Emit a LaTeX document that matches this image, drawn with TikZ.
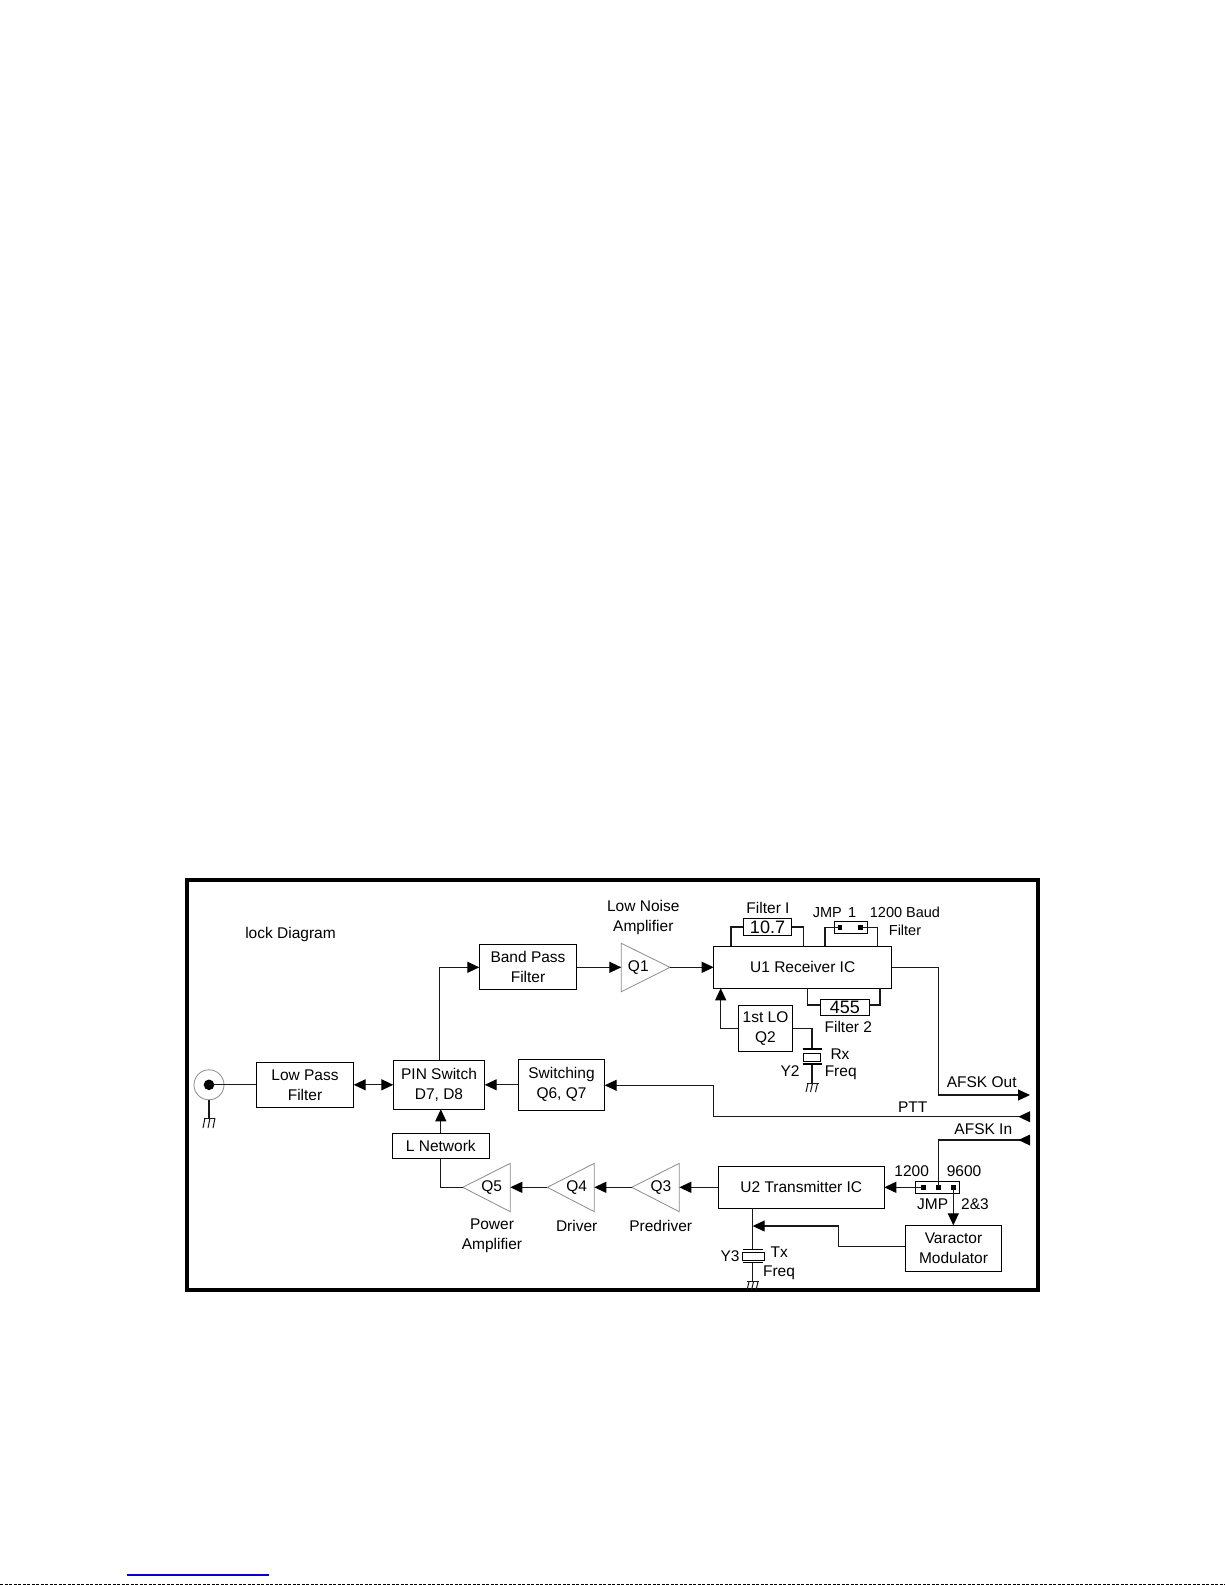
\documentclass[tikz,border=0pt]{standalone}
\usepackage{fontspec}
\setmainfont{Liberation Sans}
\usetikzlibrary{arrows.meta,calc}
\tikzset{
  box/.style={draw=black,line width=1pt,fill=white,inner sep=0pt,outer sep=0pt,align=center,font=\fontsize{15.5}{20}\selectfont},
  lbl/.style={inner sep=0pt,outer sep=0pt,align=center,font=\fontsize{15.5}{20}\selectfont},
  small/.style={inner sep=0pt,outer sep=0pt,align=center,font=\fontsize{14.5}{18}\selectfont},
  wire/.style={line width=1.2pt,black!90},
  head/.style={Triangle[length=12pt,width=11pt,color=black,fill=black]},
  arr/.style={wire,-{Triangle[length=12pt,width=11pt,color=black,fill=black]}},
  dbl/.style={wire,{Triangle[length=12pt,width=11pt,color=black,fill=black]}-{Triangle[length=12pt,width=11pt,color=black,fill=black]}},
  amp/.style={draw=black!45,line width=0.8pt,fill=white},
  pin/.style={fill=black,inner sep=0pt,minimum size=4.5pt,outer sep=0pt},
  gnd/.style={line width=1pt,black!90}
}
\begin{document}
\begin{tikzpicture}[x=1pt,y=-1pt]
\useasboundingbox (0,0) rectangle (1225,1585);
\fill[white] (0,0) rectangle (1225,1585);
% frame
\draw[line width=4pt,black] (186.7,880) rectangle (1037.7,1290.3);
% boxes
\node[box,minimum width=97.4pt,minimum height=45pt] (lpf) at (305,1084.8) {Low Pass\\Filter};
\node[box,minimum width=91.4pt,minimum height=49pt] (pinsw) at (439,1084.8) {PIN Switch\\D7, D8};
\node[box,minimum width=86.4pt,minimum height=51pt] (sw) at (561.5,1084.8) {Switching\\Q6, Q7};
\node[box,minimum width=97.4pt,minimum height=45pt] (bpf) at (528,967.3) {Band Pass\\Filter};
\node[box,minimum width=178pt,minimum height=42pt] (u1) at (802.7,967.3) {U1 Receiver IC};
\node[box,minimum width=48.4pt,minimum height=17.4pt,font=\fontsize{18}{20}\selectfont] (f1) at (767.5,927) {10.7};
\node[box,minimum width=33.4pt,minimum height=11.6pt] (jmpa) at (851,927.5) {};
\node[box,minimum width=49pt,minimum height=16.7pt,font=\fontsize{18}{20}\selectfont] (f2) at (844.8,1007.6) {455};
\node[box,minimum width=54.4pt,minimum height=45.3pt] (lo) at (765.5,1028.6) {1st LO\\Q2};
\node[box,minimum width=97pt,minimum height=25pt] (lnet) at (440.8,1145.8) {L Network};
\node[box,minimum width=166pt,minimum height=42pt] (u2) at (801.3,1187.3) {U2 Transmitter IC};
\node[box,minimum width=43.6pt,minimum height=12.3pt] (jmpb) at (937.5,1187.2) {};
\node[box,minimum width=96.4pt,minimum height=46pt] (var) at (953.5,1248.3) {Varactor\\Modulator};
% pins
\node[pin] (p1) at (840,927.7) {};
\node[pin] (p2) at (860.7,927.7) {};
\node[pin] (p3) at (923.3,1187.3) {};
\node[pin] (p4) at (938.3,1187.3) {};
\node[pin] (p5) at (953.3,1187.3) {};
% amplifiers
\draw[amp] (621.3,943.3) -- (670,967.3) -- (621.3,991.7) -- cycle;
\draw[amp] (510.3,1163.3) -- (462.7,1187.3) -- (510.3,1211.7) -- cycle;
\draw[amp] (594.3,1163.3) -- (547.3,1187.3) -- (594.3,1211.7) -- cycle;
\draw[amp] (679.3,1163.3) -- (631.7,1187.3) -- (679.3,1211.7) -- cycle;
\node[lbl] (q1) at (638.3,967.3) {Q1};
\node[lbl] (q5) at (491.7,1187.3) {Q5};
\node[lbl] (q4) at (576.7,1187.3) {Q4};
\node[lbl] (q3) at (661,1187.3) {Q3};
\coordinate (q1w) at (621.3,967.3);
\coordinate (q1e) at (670,967.3);
\coordinate (q5w) at (462.7,1187.3);
\coordinate (q5e) at (510.3,1187.3);
\coordinate (q4w) at (547.3,1187.3);
\coordinate (q4e) at (594.3,1187.3);
\coordinate (q3w) at (631.7,1187.3);
\coordinate (q3e) at (679.3,1187.3);
% antenna connector
\node[circle,draw=black!45,line width=0.8pt,minimum size=30pt,inner sep=0pt,outer sep=0pt] (ant) at (209,1084.8) {};
\node[circle,fill=black,minimum size=10.6pt,inner sep=0pt] (antc) at (209,1084.8) {};
\draw[wire] (antc.center) -- (lpf.west);
\coordinate (g0) at (209,1118);
\draw[wire] (ant.south) -- (g0);
\draw[gnd] (204,1118) -- (215,1118);
\draw[gnd] (205,1118) -- (203,1128) (210,1118) -- (208,1128) (215,1118) -- (213,1128);
% RF path
\draw[dbl] (lpf.east) -- (pinsw.west);
\draw[arr] (sw.west) -- (pinsw.east);
\coordinate (bend1) at (439.3,967.3);
\draw[arr] (bend1 |- pinsw.north) -- (bend1) -- (bpf.west);
\draw[arr] (bpf.east) -- (q1w);
\draw[arr] (q1e) -- (u1.west);
% filter 1
\coordinate (f1l) at (731,927);
\coordinate (f1r) at (803.3,927);
\draw[wire] (f1l |- u1.north) -- (f1l) -- (f1.west);
\draw[wire] (f1.east) -- (f1r) -- (f1r |- u1.north);
% jumper 1
\coordinate (j1l) at (825,927.7);
\coordinate (j1r) at (877.7,927.7);
\draw[wire] (j1l |- u1.north) -- (j1l) -- (p1.center);
\draw[wire] (p2.center) -- (j1r) -- (j1r |- u1.north);
% filter 2
\coordinate (f2l) at (807.7,1005);
\coordinate (f2r) at (880,1005);
\draw[wire] (f2l |- u1.south) -- (f2l) -- (f2l -| f2.west);
\draw[wire] (f2r -| f2.east) -- (f2r) -- (f2r |- u1.south);
% LO
\coordinate (lo1) at (720.7,1028.6);
\draw[arr] (lo.west) -- (lo1) -- (lo1 |- u1.south);
\coordinate (lo2) at (812,1028.6);
\coordinate (y2t) at (812,1049);
\coordinate (y2b) at (812,1064);
\coordinate (g2) at (812,1083.3);
\draw[wire] (lo.east) -- (lo2) -- (y2t);
\draw[wire] (y2b) -- (g2);
\draw[line width=1.4pt] (802.7,1049) -- (821.7,1049);
\draw[line width=1.4pt] (802.7,1064) -- (821.7,1064);
\node[draw,line width=1pt,fill=white,minimum width=17.7pt,minimum height=7.7pt,inner sep=0pt] (y2) at (812,1057.2) {};
\draw[gnd] (806.5,1083.3) -- (818.5,1083.3);
\draw[gnd] (808,1083.3) -- (806,1092) (812.5,1083.3) -- (810.5,1092) (817.5,1083.3) -- (815.5,1092);
% outputs
\coordinate (aout1) at (938.3,967.3);
\coordinate (aout2) at (1030,1095);
\draw[arr] (u1.east) -- (aout1) -- (aout1 |- aout2) -- (aout2);
\coordinate (ptt0) at (1030,1116.7);
\coordinate (ptt1) at (713.7,1116.7);
\coordinate (ptt2) at (713.7,1085.3);
\draw[wire] (ptt0) -- (ptt1) -- (ptt2);
\draw[arr] (ptt2) -- (sw.east |- ptt2);
\fill[black] (1030,1111.2) -- (1018.3,1116.7) -- (1030,1122.2) -- cycle;
\coordinate (ain0) at (1030,1140);
\coordinate (ain1) at (938.3,1140);
\draw[wire] (ain0) -- (ain1) -- (p4.center);
\fill[black] (1030,1134.5) -- (1018.3,1140) -- (1030,1145.5) -- cycle;
% TX chain
\draw[arr] (p3.center) -- (u2.east |- p3);
\draw[arr] (p5.center) -- (p5 |- var.north);
\coordinate (v1) at (838.3,1246.7);
\coordinate (v2) at (838.3,1226);
\coordinate (y3j) at (752.7,1226);
\draw[arr] (var.west |- v1) -- (v1) -- (v2) -- (y3j);
\coordinate (y3t) at (752.7,1249.3);
\coordinate (y3b) at (752.7,1262.3);
\coordinate (g3) at (752.7,1281.7);
\draw[wire] (y3j |- u2.south) -- (y3t);
\draw[wire] (y3b) -- (g3);
\draw[line width=1.4pt] (743.3,1249.3) -- (762.7,1249.3);
\draw[line width=1.4pt] (743.3,1262.3) -- (762.7,1262.3);
\node[draw,line width=1pt,fill=white,minimum width=21.7pt,minimum height=8pt,inner sep=0pt] (y3) at (753.2,1256.7) {};
\draw[gnd] (747,1281.7) -- (758.5,1281.7);
\draw[gnd] (749,1281.7) -- (747,1290) (753.5,1281.7) -- (751.5,1290) (758,1281.7) -- (756,1290);
\draw[arr] (u2.west) -- (q3e);
\draw[arr] (q3w) -- (q4e);
\draw[arr] (q4w) -- (q5e);
\coordinate (l1) at (440.8,1187.3);
\draw[wire] (q5w) -- (l1) -- (lnet.south);
\draw[arr] (lnet.north) -- (lnet.north |- pinsw.south);
% labels
\node[lbl] (title) at (290.5,934.5) {lock Diagram};
\node[lbl] (tlna) at (643.3,917.8) {Low Noise\\Amplifier};
\node[lbl] (tf1) at (768,907.5) {Filter I};
\node[small] (tj1) at (834.5,912.7) {JMP\, 1};
\node[small] (tb) at (905,912.7) {1200 Baud};
\node[small] (tbf) at (905,930.7) {Filter};
\node[lbl] (tf2) at (848.3,1026.7) {Filter 2};
\node[lbl] (trx) at (840,1054) {Rx};
\node[lbl] (tfr) at (840.7,1073) {Freq};
\node[lbl] (ty2) at (790,1071) {Y2};
\node[lbl] (taout) at (981.7,1081.7) {AFSK Out};
\node[lbl] (tptt) at (912.7,1107.3) {PTT};
\node[lbl] (tain) at (983.3,1129.3) {AFSK In};
\node[lbl] (t12) at (911.7,1170.7) {1200};
\node[lbl] (t96) at (964,1170.7) {9600};
\node[lbl] (tjmp) at (932.7,1204.3) {JMP};
\node[lbl] (t23) at (975,1204.3) {2\&3};
\node[lbl] (ty3) at (730,1255.7) {Y3};
\node[lbl] (ttx) at (779.3,1251.7) {Tx};
\node[lbl] (tfq) at (779,1272.3) {Freq};
\node[lbl] (tpa) at (492,1236) {Power\\Amplifier};
\node[lbl] (tdr) at (576.7,1226) {Driver};
\node[lbl] (tpd) at (660.7,1226) {Predriver};
% page artefacts
\draw[line width=1.3pt,blue!80!black] (127,1575) -- (269,1575);
\draw[line width=1pt,black,dash pattern=on 3pt off 1.5pt] (0,1584.3) -- (1225,1584.3);
\end{tikzpicture}
\end{document}
